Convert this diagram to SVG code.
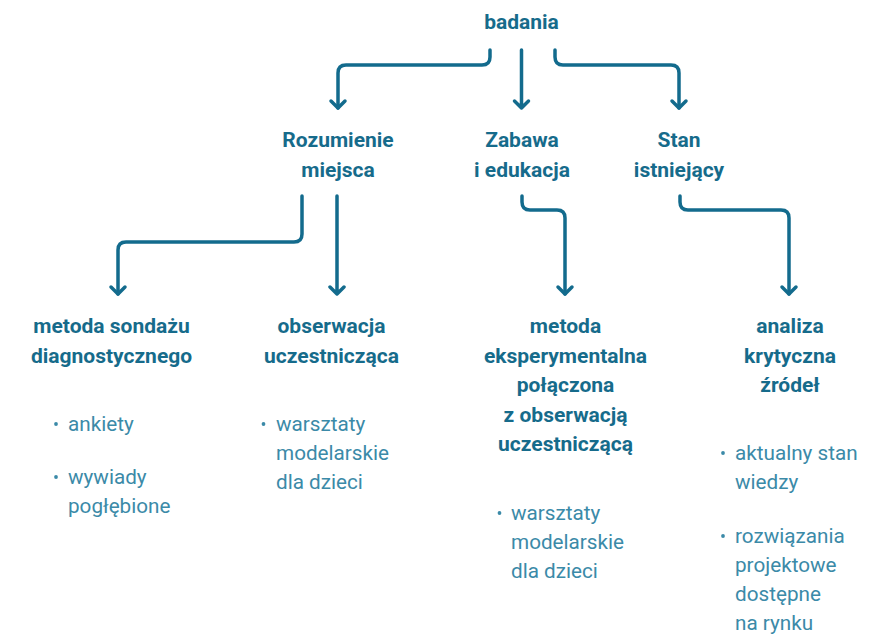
<svg xmlns="http://www.w3.org/2000/svg" width="884" height="636" viewBox="0 0 884 636">
<defs>
<style>
.t{font-family:Roboto,"Liberation Sans",sans-serif;font-weight:700;font-size:21px;fill:#166b8b;text-anchor:middle}
.b{font-family:Roboto,"Liberation Sans",sans-serif;font-weight:400;font-size:20.7px;fill:#3b8aa8}
.d{fill:#3b8aa8}
.c{fill:none;stroke:#136b8d;stroke-width:3.5;stroke-linecap:round;stroke-linejoin:round}
</style>
</defs>
<rect width="884" height="636" fill="#ffffff"/>
<g id="connectors" class="c">
<path d="M490 50 V57 Q490 65 482 65 H346 Q338 65 338 73 V108"/>
<path d="M338 108 l-7 -7 M338 108 l7 -7"/>
<path d="M521.5 50 V108 M521.5 108 l-7 -7 M521.5 108 l7 -7"/>
<path d="M555 50 V57 Q555 65 563 65 H671 Q679 65 679 73 V108"/>
<path d="M679 108 l-7 -7 M679 108 l7 -7"/>
<path d="M302 196 V234 Q302 242 294 242 H126 Q118 242 118 250 V294"/>
<path d="M118 294 l-7 -7 M118 294 l7 -7"/>
<path d="M337 196 V294 M337 294 l-7 -7 M337 294 l7 -7"/>
<path d="M522 196 V202 Q522 210 530 210 H557 Q565 210 565 218 V294"/>
<path d="M565 294 l-7 -7 M565 294 l7 -7"/>
<path d="M680 196 V202 Q680 210 688 210 H781 Q789 210 789 218 V294"/>
<path d="M789 294 l-7 -7 M789 294 l7 -7"/>
</g>
<g id="badania"><text class="t" x="521.5" y="29">badania</text></g>
<g id="rozumienie"><text class="t" x="338" y="147">Rozumienie</text><text class="t" x="338" y="177">miejsca</text></g>
<g id="zabawa"><text class="t" x="522" y="147">Zabawa</text><text class="t" x="522" y="177">i edukacja</text></g>
<g id="stan"><text class="t" x="679" y="147">Stan</text><text class="t" x="679" y="177">istniejący</text></g>
<g id="sondaz">
<text class="t" x="111.5" y="333">metoda sondażu</text><text class="t" x="111.5" y="363">diagnostycznego</text>
<circle class="d" cx="56" cy="424" r="1.9"/><text class="b" x="68" y="431">ankiety</text>
<circle class="d" cx="56" cy="477" r="1.9"/><text class="b" x="68" y="484">wywiady</text><text class="b" x="68" y="513">pogłębione</text>
</g>
<g id="obserwacja">
<text class="t" x="331.5" y="333">obserwacja</text><text class="t" x="331.5" y="363">uczestnicząca</text>
<circle class="d" cx="263.5" cy="424" r="1.9"/><text class="b" x="276" y="431">warsztaty</text><text class="b" x="276" y="460">modelarskie</text><text class="b" x="276" y="489">dla dzieci</text>
</g>
<g id="eksperymentalna">
<text class="t" x="565.5" y="333">metoda</text><text class="t" x="565.5" y="362.5">eksperymentalna</text><text class="t" x="565.5" y="392">połączona</text><text class="t" x="565.5" y="421.5">z obserwacją</text><text class="t" x="565.5" y="451">uczestniczącą</text>
<circle class="d" cx="499.5" cy="513" r="1.9"/><text class="b" x="511" y="520">warsztaty</text><text class="b" x="511" y="549">modelarskie</text><text class="b" x="511" y="578">dla dzieci</text>
</g>
<g id="analiza">
<text class="t" x="790" y="333">analiza</text><text class="t" x="790" y="362.5">krytyczna</text><text class="t" x="790" y="392">źródeł</text>
<circle class="d" cx="723" cy="453" r="1.9"/><text class="b" x="735" y="460">aktualny stan</text><text class="b" x="735" y="489">wiedzy</text>
<circle class="d" cx="723" cy="536" r="1.9"/><text class="b" x="735" y="543">rozwiązania</text><text class="b" x="735" y="572">projektowe</text><text class="b" x="735" y="601">dostępne</text><text class="b" x="735" y="630">na rynku</text>
</g>
</svg>
